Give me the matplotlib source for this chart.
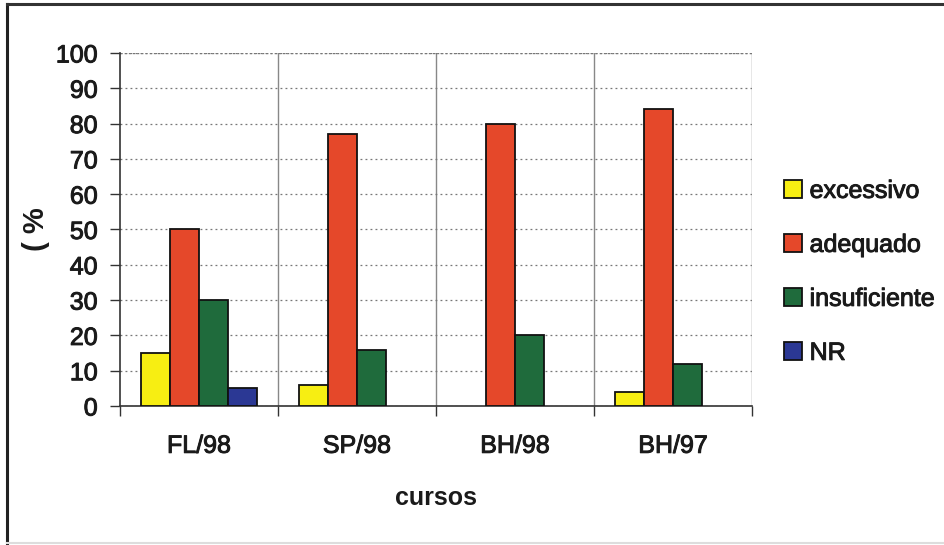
import matplotlib.pyplot as plt
import matplotlib.patheffects as pe
import numpy as np
from matplotlib.lines import Line2D

cursos = ['FL/98', 'SP/98', 'BH/98', 'BH/97']
excessivo = [15, 6, 0, 4]
adequado = [50, 77, 80, 84]
insuficiente = [30, 16, 20, 12]
nr = [5, 0, 0, 0]

series = [('excessivo', excessivo, '#f7ee12'),
          ('adequado', adequado, '#e5482a'),
          ('insuficiente', insuficiente, '#1f6b3c'),
          ('NR', nr, '#2b3894')]

plt.rcParams['font.family'] = ['Liberation Sans', 'DejaVu Sans']
plt.rcParams['font.size'] = 18
heavy = [pe.withStroke(linewidth=0.7, foreground='#1a1a1a')]

fig = plt.figure(figsize=(9.44, 5.45), dpi=100)
ax = fig.add_axes([0.1271, 0.2550, 0.6695, 0.6478])

x = np.arange(len(cursos))
w = 0.185
for i, (name, vals, col) in enumerate(series):
    vals = np.array(vals, dtype=float)
    # empty categories get no outline
    lw = np.where(vals > 0, 1.3, 0.0)
    ax.bar(x + (i - 1.5) * w, vals, w, color=col, edgecolor='#111111',
           linewidth=lw, label=name, zorder=3)

ax.set_xlim(-0.5, 3.5)
ax.set_ylim(0, 100)
ax.set_yticks(np.arange(0, 101, 10))
ax.yaxis.grid(True, linestyle=(0, (1.5, 2.5)), color='#777777', linewidth=0.9, zorder=0)

# category boundaries: ticks and vertical separators
bounds = np.arange(-0.5, 4, 1.0)
ax.set_xticks(x)
ax.set_xticklabels(cursos)
ax.set_xticks(bounds, minor=True)
ax.tick_params(axis='x', which='major', length=0, pad=20, colors='#1a1a1a')
ax.tick_params(axis='x', which='minor', length=7, width=1.0, direction='out', color='#333333')
ax.tick_params(axis='y', length=7, width=1.0, direction='out', color='#333333',
               colors='#1a1a1a', pad=9)
for b in bounds[1:]:
    ax.axvline(b, color='#888888', linewidth=1.0, zorder=1)

for s in ['top', 'right']:
    ax.spines[s].set_visible(False)
ax.spines['left'].set_color('#333333')
ax.spines['bottom'].set_color('#333333')
ax.spines['left'].set_linewidth(1.2)
ax.spines['bottom'].set_linewidth(1.2)
ax.axhline(100, color='#777777', linestyle=(0, (1.5, 1.5)), linewidth=1.0, zorder=1)

ax.set_ylabel('( %', fontweight='bold', fontsize=21, labelpad=4, color='#1a1a1a')
ax.set_xlabel('cursos', fontweight='bold', labelpad=20, color='#1a1a1a')

leg = ax.legend(loc='center left', bbox_to_anchor=(1.035, 0.38), frameon=False,
                handlelength=0.72, handleheight=0.72, handletextpad=0.3,
                labelspacing=1.2, borderaxespad=0)
for t in leg.get_texts():
    t.set_color('#1a1a1a')
    t.set_path_effects(heavy)
for t in ax.get_xticklabels() + ax.get_yticklabels():
    t.set_path_effects(heavy)

# outer frame of the chart area
fig.add_artist(Line2D([7 / 944, 7 / 944], [0.003, 1 - 4 / 545], color='#222222', linewidth=2.2))
fig.add_artist(Line2D([7 / 944, 1.0], [1 - 4 / 545, 1 - 4 / 545], color='#333333', linewidth=2.2))
fig.add_artist(Line2D([7 / 944, 1.0], [0.004, 0.004], color='#dddddd', linewidth=1.5))

fig.savefig('out.png', dpi=100)
